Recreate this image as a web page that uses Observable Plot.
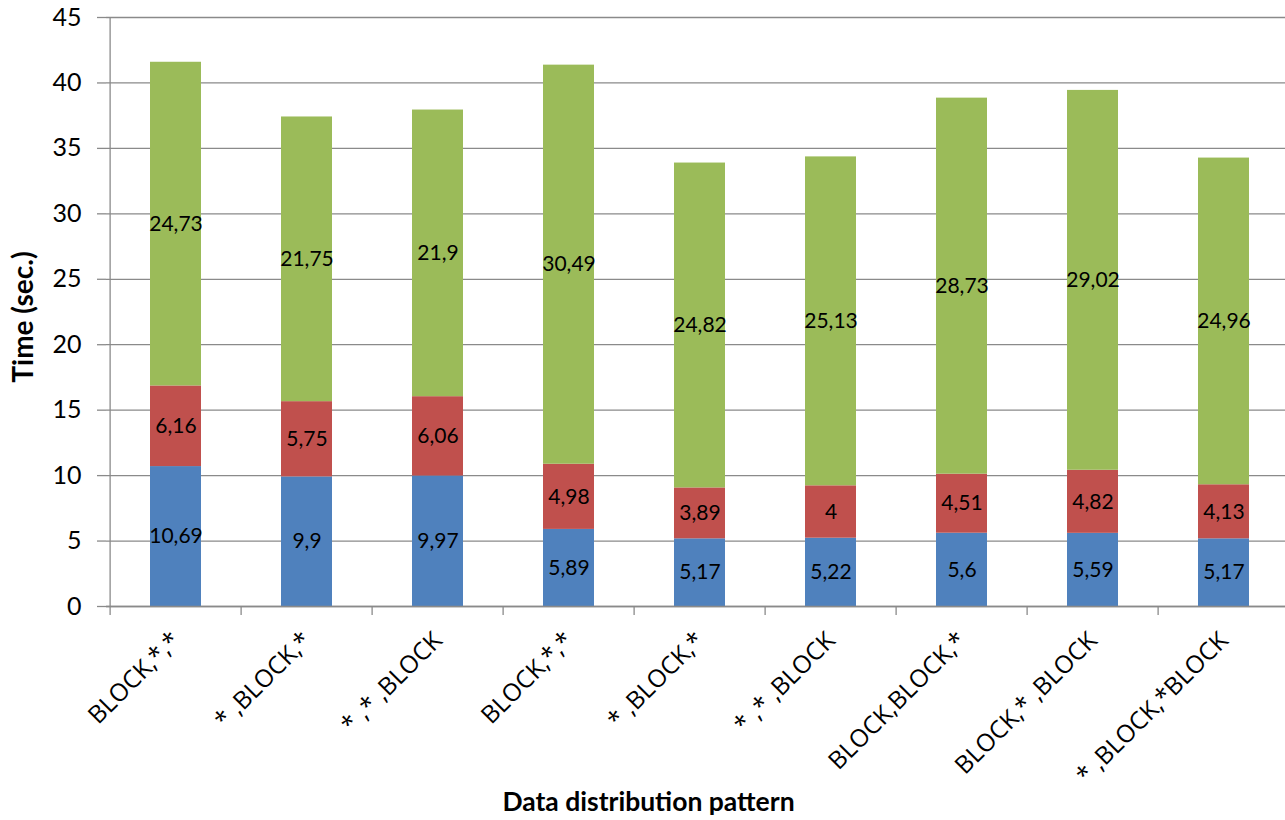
<!DOCTYPE html>
<html>
<head>
<meta charset="utf-8">
<script src="https://cdn.jsdelivr.net/npm/d3@7"></script>
<script src="https://cdn.jsdelivr.net/npm/@observablehq/plot@0.6"></script>
<style>
  html, body { margin: 0; padding: 0; background: #fff; overflow: hidden; }
  #chart svg { display: block; }
</style>
</head>
<body>
<div id="chart"></div>
<script>
// Distribution patterns along the x axis (some patterns are measured twice)
const patterns = [
  "BLOCK,*,*", "* ,BLOCK,*", "* ,* ,BLOCK",
  "BLOCK,*,*", "* ,BLOCK,*", "* ,* ,BLOCK",
  "BLOCK,BLOCK,*", "BLOCK,* ,BLOCK", "* ,BLOCK,*BLOCK"
];

// Stacked time components, bottom to top (seconds)
const bottomTimes = [10.69, 9.9, 9.97, 5.89, 5.17, 5.22, 5.6, 5.59, 5.17];
const middleTimes = [6.16, 5.75, 6.06, 4.98, 3.89, 4, 4.51, 4.82, 4.13];
const topTimes    = [24.73, 21.75, 21.9, 30.49, 24.82, 25.13, 28.73, 29.02, 24.96];

const yTicks = [0, 5, 10, 15, 20, 25, 30, 35, 40, 45];
const xTitle = "Data distribution pattern";
const yTitle = "Time (sec.)";

const seriesList = [
  {key: "bottom", values: bottomTimes, color: "#4F81BD"},
  {key: "middle", values: middleTimes, color: "#C0504D"},
  {key: "top",    values: topTimes,    color: "#9BBB59"}
];

const indices = patterns.map((_, i) => i);
const rows = seriesList.flatMap((s, k) =>
  s.values.map((v, i) => ({i, order: k, value: v, color: s.color}))
);

const W = 1285, H = 820;
const marginLeft = 106, marginRight = -7;
const step = (W - marginLeft - marginRight) / patterns.length;
const gridColor = "#8a8a8a";
const font = "Lato, 'Open Sans', sans-serif";
const decimalComma = v => String(v).replace(".", ",");

const chart = Plot.plot({
  width: W,
  height: H,
  marginLeft,
  marginRight,
  marginTop: 17,
  marginBottom: 214,
  style: {fontFamily: font, color: "#000", background: "#fff", overflow: "hidden"},
  x: {type: "band", domain: indices, padding: 0},
  y: {domain: [0, 45]},
  marks: [
    Plot.gridY(yTicks, {stroke: gridColor, strokeOpacity: 1, strokeWidth: 1.3}),
    Plot.barY(rows, Plot.stackY({
      x: "i", y: "value", fill: "color", order: "order",
      insetLeft: 40, insetRight: 40
    })),
    Plot.text(rows, Plot.stackY({
      x: "i", y: "value", order: "order",
      text: d => decimalComma(d.value),
      fontSize: 21, fill: "#000"
    })),
    // y axis: line, outward ticks and labels
    Plot.ruleX([0], {x: () => 0, dx: -step / 2, stroke: gridColor, strokeWidth: 1.3}),
    Plot.axisY(yTicks, {
      tickSize: 9, tickPadding: 16, fontSize: 25, stroke: gridColor, strokeWidth: 1.3,
      label: null
    }),
    // x axis: baseline, ticks at category boundaries and rotated labels
    Plot.ruleY([0], {stroke: gridColor, strokeWidth: 1.3}),
    Plot.axisX(indices, {
      tickSize: 9, dx: -step / 2, tickFormat: () => "", stroke: gridColor, strokeWidth: 1.3,
      label: null
    }),
    Plot.axisX(indices, {
      tickSize: 0, tickPadding: 30, tickRotate: -45, fontSize: 24.5,
      fontFamily: "'Open Sans', Lato, sans-serif",
      tickFormat: i => patterns[i],
      label: null
    }),
    // axis titles
    Plot.text([xTitle], {
      text: d => d, frameAnchor: "bottom", dx: -51, dy: 196,
      textAnchor: "middle", lineAnchor: "middle",
      fontSize: 26.5, fontWeight: "bold", fill: "#000"
    }),
    Plot.text([yTitle], {
      text: d => d, frameAnchor: "left", dx: -82, dy: 5, rotate: -90,
      textAnchor: "middle", lineAnchor: "middle",
      fontSize: 28, fontWeight: "bold", fill: "#000"
    })
  ]
});

document.getElementById("chart").appendChild(chart);
</script>
</body>
</html>
